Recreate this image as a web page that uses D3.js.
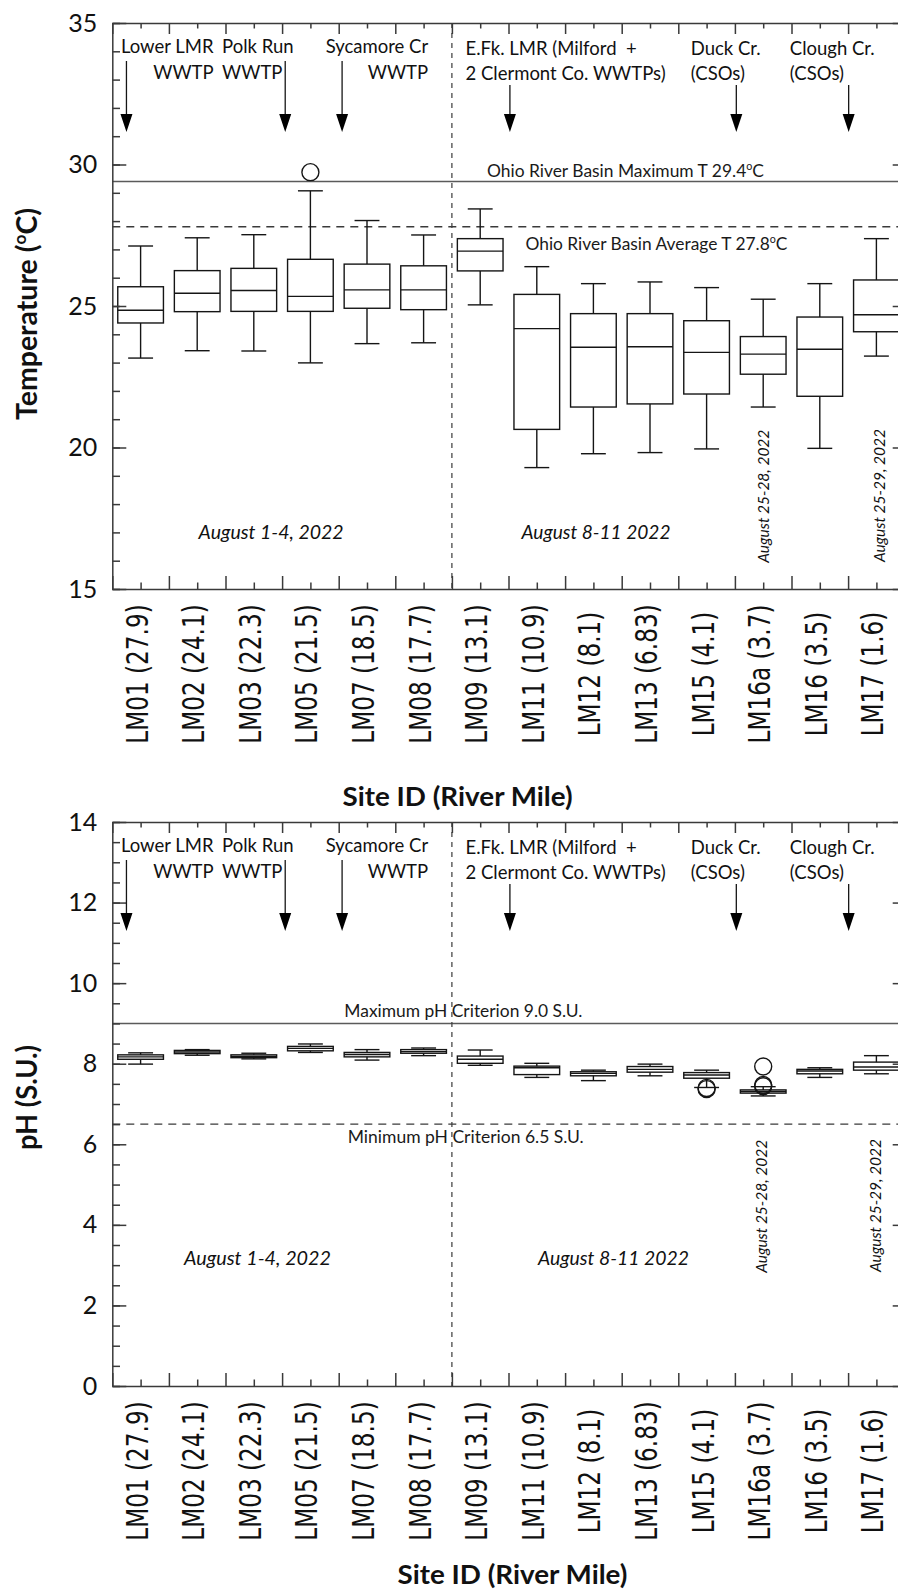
<!DOCTYPE html>
<html>
<head>
<meta charset="utf-8">
<script src="https://cdn.jsdelivr.net/npm/d3@7"></script>
<style>
  html, body { margin: 0; padding: 0; background: #fff; }
  svg { display: block; }
  text { white-space: pre; }
</style>
</head>
<body>
<svg id="chart" width="898" height="1591"></svg>
<script>
// ---- Sites (river mile in parentheses) ----
const sites = ["LM01 (27.9)", "LM02 (24.1)", "LM03 (22.3)", "LM05 (21.5)", "LM07 (18.5)", "LM08 (17.7)",
               "LM09 (13.1)", "LM11 (10.9)", "LM12 (8.1)", "LM13 (6.83)", "LM15 (4.1)", "LM16a (3.7)",
               "LM16 (3.5)", "LM17 (1.6)"];

// ---- Water temperature (°C): box-plot statistics per site ----
const tempMin = [23.16, 23.42, 23.41, 22.99, 23.67, 23.70, 25.04, 19.29, 19.78, 19.82, 19.95, 21.43, 19.97, 23.23];
const tempQ1  = [24.40, 24.80, 24.81, 24.81, 24.92, 24.87, 26.24, 20.64, 21.43, 21.54, 21.89, 22.59, 21.81, 24.09];
const tempMed = [24.85, 25.45, 25.55, 25.34, 25.57, 25.57, 26.94, 24.20, 23.54, 23.56, 23.36, 23.30, 23.47, 24.69];
const tempQ3  = [25.68, 26.25, 26.33, 26.65, 26.48, 26.42, 27.38, 25.41, 24.73, 24.73, 24.48, 23.92, 24.61, 25.92];
const tempMax = [27.12, 27.41, 27.52, 29.07, 28.02, 27.51, 28.43, 26.39, 25.79, 25.85, 25.65, 25.24, 25.79, 27.38];
const tempOutSite = ["LM05 (21.5)"];
const tempOutVal  = [29.73];
const tempTicks = [15, 20, 25, 30, 35];
const tempRefVal = [29.4, 27.8];
const tempRefLabel = ["Ohio River Basin Maximum T 29.4", "Ohio River Basin Average T 27.8"];

// ---- pH (S.U.): box-plot statistics per site ----
const phMin = [7.99, 8.21, 8.12, 8.28, 8.09, 8.20, 7.96, 7.66, 7.58, 7.70, 7.41, 7.20, 7.66, 7.75];
const phQ1  = [8.11, 8.25, 8.15, 8.32, 8.17, 8.26, 8.01, 7.73, 7.70, 7.79, 7.64, 7.27, 7.75, 7.84];
const phMed = [8.17, 8.29, 8.18, 8.38, 8.23, 8.30, 8.11, 7.90, 7.76, 7.86, 7.72, 7.31, 7.82, 7.92];
const phQ3  = [8.22, 8.33, 8.22, 8.43, 8.28, 8.35, 8.19, 7.94, 7.80, 7.93, 7.78, 7.35, 7.86, 8.04];
const phMax = [8.27, 8.35, 8.26, 8.49, 8.35, 8.39, 8.34, 8.01, 7.84, 7.99, 7.84, 7.43, 7.90, 8.20];
const phOutSite = ["LM15 (4.1)", "LM15 (4.1)", "LM16a (3.7)", "LM16a (3.7)", "LM16a (3.7)"];
const phOutVal  = [7.40, 7.37, 7.93, 7.47, 7.44];
const phTicks = [0, 2, 4, 6, 8, 10, 12, 14];
const phRefVal = [9.0, 6.5];
const phRefLabel = ["Maximum pH Criterion 9.0 S.U.", "Minimum pH Criterion 6.5 S.U."];

// ---- Sources entering the river (arrows) ----
const srcLines = [["Lower LMR", "WWTP"], ["Polk Run", "WWTP"], ["Sycamore Cr", "WWTP"],
                  ["E.Fk. LMR (Milford  +", "2 Clermont Co. WWTPs)"], ["Duck Cr.", "(CSOs)"], ["Clough Cr.", "(CSOs)"]];
const srcAnchor = ["end", "start", "end", "start", "start", "start"];
const srcTextAt = [1.29, 1.44, 5.08, 5.74, 9.72, 11.47];      // site-index units
const srcArrowAt = [-0.25, 2.555, 3.56, 6.525, 10.525, 12.51]; // site-index units

// ---- Sampling periods ----
const periodText = ["August 1-4, 2022", "August 8-11 2022"];
const rotatedText = ["August 25-28, 2022", "August 25-29, 2022"];

const svg = d3.select("#chart");
const plotLeft = 112.3, plotRight = 904.7;
const x = d3.scaleBand().domain(sites).range([plotLeft, plotRight]).padding(0);
const bw = x.bandwidth();
const xi = d3.scaleLinear().domain([-0.5, sites.length - 0.5]).range([plotLeft, plotRight]);

const AXIS = "#3a3a3a", INK = "#151515";
const LATO = "Lato, 'Open Sans', sans-serif";

function drawPanel(p) {
  const g = svg.append("g");
  const y = d3.scaleLinear().domain(p.domain).range([p.bottom, p.top]);
  const divX = xi(5.5);

  // reference criteria lines
  p.refVal.forEach((v, k) => {
    g.append("line")
      .attr("x1", plotLeft).attr("x2", plotRight)
      .attr("y1", y(v)).attr("y2", y(v))
      .attr("stroke", k === 0 ? "#5a5a5a" : "#3a3a3a")
      .attr("stroke-width", k === 0 ? 1.6 : 1.3)
      .attr("stroke-dasharray", k === 0 ? null : "8,6");
    const t = g.append("text")
      .attr("x", xi(p.refLabelAt[k])).attr("y", y(v) + p.refLabelDy[k])
      .attr("font-family", LATO).attr("font-size", p.refFont).attr("fill", "#1a1a1a")
      .attr("textLength", p.refLen[k]).attr("lengthAdjust", "spacingAndGlyphs");
    t.append("tspan").text(p.refLabel[k]);
    if (p.refUnit) {
      t.append("tspan").attr("dy", -7).attr("font-size", 10.5).text("o");
      t.append("tspan").attr("dy", 7).text("C");
    }
  });

  // divider between the two sampling periods
  g.append("line")
    .attr("x1", divX).attr("x2", divX).attr("y1", p.top).attr("y2", p.bottom)
    .attr("stroke", "#3a3a3a").attr("stroke-width", 1.2).attr("stroke-dasharray", "5,5");

  // box plots
  const boxW = bw * 0.807, capW = bw * 0.44;
  sites.forEach((s, i) => {
    const cx = x(s) + bw / 2;
    const bg = g.append("g").attr("stroke", INK).attr("stroke-width", 1.4).attr("fill", "none");
    bg.append("line").attr("x1", cx).attr("x2", cx).attr("y1", y(p.max[i])).attr("y2", y(p.q3[i]));
    bg.append("line").attr("x1", cx).attr("x2", cx).attr("y1", y(p.q1[i])).attr("y2", y(p.min[i]));
    bg.append("line").attr("x1", cx - capW / 2).attr("x2", cx + capW / 2).attr("y1", y(p.max[i])).attr("y2", y(p.max[i]));
    bg.append("line").attr("x1", cx - capW / 2).attr("x2", cx + capW / 2).attr("y1", y(p.min[i])).attr("y2", y(p.min[i]));
    bg.append("rect").attr("x", cx - boxW / 2).attr("width", boxW)
      .attr("y", y(p.q3[i])).attr("height", y(p.q1[i]) - y(p.q3[i]));
    bg.append("line").attr("x1", cx - boxW / 2).attr("x2", cx + boxW / 2).attr("y1", y(p.med[i])).attr("y2", y(p.med[i]));
  });

  // outliers
  p.outSite.forEach((s, k) => {
    g.append("circle").attr("cx", x(s) + bw / 2).attr("cy", y(p.outVal[k])).attr("r", 8.5)
      .attr("fill", "none").attr("stroke", INK).attr("stroke-width", 1.4);
  });

  // axes: left (major + minor), right, top, bottom
  const styleAxis = sel => {
    sel.selectAll("path,line").attr("stroke", AXIS).attr("stroke-width", 1.5);
    sel.selectAll("text").attr("font-family", LATO).attr("font-size", 25).attr("fill", "#111");
  };
  g.append("g").attr("transform", `translate(${plotLeft},0)`)
    .call(d3.axisLeft(y).tickValues(p.ticks).tickSizeInner(-14).tickSizeOuter(0).tickPadding(15).tickFormat(d3.format("d")))
    .call(styleAxis);
  g.append("g").attr("transform", `translate(${plotLeft},0)`)
    .call(d3.axisLeft(y).tickValues(d3.range(p.domain[0], p.domain[1] + 1e-9, p.minorStep)).tickSize(-7.7).tickFormat(""))
    .call(styleAxis).call(a => a.select(".domain").remove());
  g.append("g").attr("transform", `translate(${plotRight},0)`)
    .call(d3.axisRight(y).tickValues(p.ticks).tickSizeInner(-12).tickSizeOuter(0).tickFormat(""))
    .call(styleAxis);
  const bounds = d3.range(-0.5, sites.length, 1), centers = d3.range(0, sites.length, 1);
  g.append("g").attr("transform", `translate(0,${p.top})`)
    .call(d3.axisTop(xi).tickValues(bounds).tickSizeInner(-11).tickSizeOuter(0).tickFormat(""))
    .call(styleAxis);
  g.append("g").attr("transform", `translate(0,${p.top})`)
    .call(d3.axisTop(xi).tickValues(centers).tickSize(-5.5).tickFormat(""))
    .call(styleAxis).call(a => a.select(".domain").remove());
  g.append("g").attr("transform", `translate(0,${p.bottom})`)
    .call(d3.axisBottom(xi).tickValues(bounds).tickSizeInner(-13).tickSizeOuter(0).tickFormat(""))
    .call(styleAxis);
  g.append("g").attr("transform", `translate(0,${p.bottom})`)
    .call(d3.axisBottom(xi).tickValues(centers).tickSize(-6.5).tickFormat(""))
    .call(styleAxis).call(a => a.select(".domain").remove());

  // site labels
  const xl = g.append("g").attr("transform", `translate(0,${p.bottom})`)
    .call(d3.axisBottom(x).tickSize(0));
  xl.select(".domain").remove();
  xl.selectAll("text")
    .attr("y", 0).attr("dy", 0).attr("x", 0)
    .attr("transform", "translate(7,85) rotate(-90) scale(0.76,1)")
    .attr("text-anchor", "middle")
    .attr("font-family", "'DejaVu Sans', sans-serif").attr("font-size", 30.5).attr("fill", "#111");

  // source arrows and labels
  srcLines.forEach((lines, k) => {
    const ax = xi(srcArrowAt[k]);
    const right = ax > divX;
    const base = right ? [31.7, 57] : [30, 55.5];
    lines.forEach((ln, j) => {
      g.append("text").attr("x", xi(srcTextAt[k])).attr("y", p.top + base[j])
        .attr("text-anchor", srcAnchor[k])
        .attr("font-family", LATO).attr("font-size", 18.5).attr("fill", "#111").text(ln);
    });
    const y0 = p.top + (right ? 62 : 38), tip = p.top + 109;
    g.append("line").attr("x1", ax).attr("x2", ax).attr("y1", y0).attr("y2", tip - 16)
      .attr("stroke", INK).attr("stroke-width", 1.3);
    g.append("path").attr("d", `M${ax - 6},${tip - 18}L${ax + 6},${tip - 18}L${ax},${tip}Z`).attr("fill", "#000");
  });

  // sampling period labels
  periodText.forEach((t, k) => {
    g.append("text").attr("x", xi(p.periodAt[k][0])).attr("y", y(p.periodAt[k][1]))
      .attr("font-family", LATO).attr("font-style", "italic").attr("font-size", 18.5)
      .attr("textLength", p.periodLen[k]).attr("lengthAdjust", "spacingAndGlyphs")
      .attr("fill", "#111").text(t);
  });
  rotatedText.forEach((t, k) => {
    const px = xi(p.rotAt[k][0]), py = y(p.rotAt[k][1]);
    g.append("text").attr("transform", `translate(${px},${py}) rotate(-90)`)
      .attr("font-family", LATO).attr("font-style", "italic").attr("font-size", 15.5)
      .attr("textLength", 133).attr("lengthAdjust", "spacingAndGlyphs")
      .attr("fill", "#111").text(t);
  });

  // axis titles
  const yt = g.append("text")
    .attr("transform", `translate(37,${y(p.yTitleAt)}) rotate(-90)`)
    .attr("text-anchor", "middle").attr("font-family", LATO).attr("font-weight", "bold")
    .attr("font-size", p.yTitleSize).attr("fill", "#111")
    .attr("textLength", p.yTitleLen).attr("lengthAdjust", "spacingAndGlyphs");
  yt.append("tspan").text(p.yTitle[0]);
  if (p.yTitle.length > 1) {
    yt.append("tspan").attr("dy", -11).attr("font-size", 17).text("o");
    yt.append("tspan").attr("dy", 11).text(p.yTitle[1]);
  }
  g.append("text").attr("x", xi(p.siteTitleAt)).attr("y", p.bottom + p.siteTitleDy)
    .attr("text-anchor", "middle").attr("font-family", LATO).attr("font-weight", "bold")
    .attr("font-size", 26).attr("textLength", 230).attr("lengthAdjust", "spacingAndGlyphs")
    .attr("fill", "#111").text("Site ID (River Mile)");
}

drawPanel({
  domain: [15, 35], top: 23, bottom: 589, ticks: tempTicks, minorStep: 1,
  min: tempMin, q1: tempQ1, med: tempMed, q3: tempQ3, max: tempMax,
  outSite: tempOutSite, outVal: tempOutVal,
  refVal: tempRefVal, refLabel: tempRefLabel, refUnit: true, refFont: 17,
  refLabelAt: [6.12, 6.80], refLabelDy: [-4.3, 23], refLen: [277, 262],
  periodAt: [[1.025, 16.76], [6.73, 16.76]], periodLen: [145, 149],
  rotAt: [[11.10, 15.93], [13.16, 15.95]],
  yTitle: ["Temperature (", "C)"], yTitleAt: 24.72, yTitleSize: 28, yTitleLen: 212,
  siteTitleAt: 5.6, siteTitleDy: 217
});

drawPanel({
  domain: [0, 14], top: 822, bottom: 1386, ticks: phTicks, minorStep: 0.5,
  min: phMin, q1: phQ1, med: phMed, q3: phQ3, max: phMax,
  outSite: phOutSite, outVal: phOutVal,
  refVal: phRefVal, refLabel: phRefLabel, refUnit: false, refFont: 16.5,
  refLabelAt: [3.60, 3.66], refLabelDy: [-6.7, 19], refLen: [238, 236],
  periodAt: [[0.767, 3.0], [7.02, 3.0]], periodLen: [147, 151],
  rotAt: [[11.06, 2.81], [13.09, 2.83]],
  yTitle: ["pH (S.U.)"], yTitleAt: 7.16, yTitleSize: 28, yTitleLen: 105,
  siteTitleAt: 6.57, siteTitleDy: 198
});
</script>
</body>
</html>
